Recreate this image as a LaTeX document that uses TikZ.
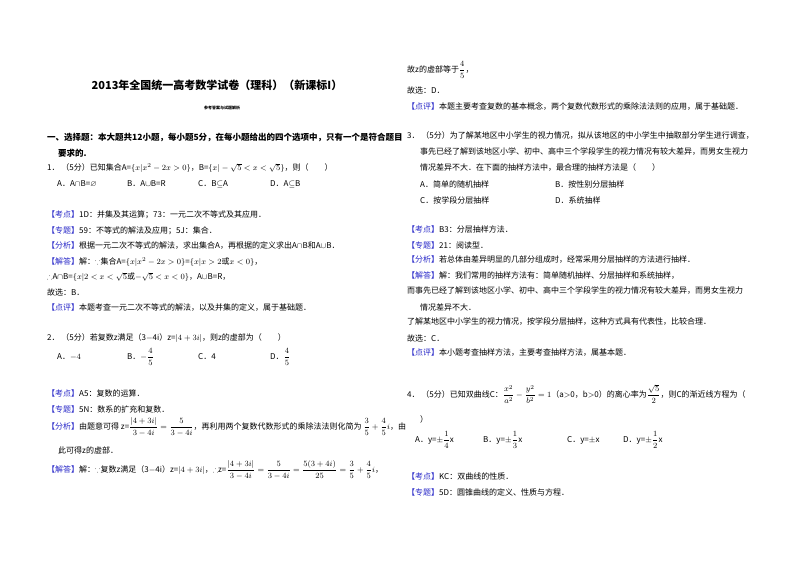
\documentclass[tikz,border=0pt]{standalone}
\usepackage{amsmath,amssymb}
\usepackage{fontspec}
\setmainfont{Noto Sans CJK SC}
\definecolor{lab}{RGB}{40,40,200}
\newcommand{\lb}[1]{{\color{lab}【#1】}}
\begin{document}
\begin{tikzpicture}[x=1pt,y=-1pt,
  t/.style={anchor=west,inner sep=0pt,font=\fontsize{8}{10}\selectfont},
  ttl/.style={anchor=center,inner sep=0pt,font=\fontsize{11}{12}\selectfont\bfseries},
  sub/.style={anchor=center,inner sep=0pt,font=\fontsize{4}{5}\selectfont\bfseries},
  sec/.style={anchor=west,inner sep=0pt,font=\fontsize{8.5}{10}\selectfont\bfseries}]
\fill[white] (0,0) rectangle (800,565);
\node[ttl] (title) at (217,85) {2013年全国统一高考数学试卷（理科）（新课标I）};
\node[sub] (subt) at (222,108) {参考答案与试题解析};
\node[sec] (s1) at (47,137) {一、选择题：本大题共12小题，每小题5分，在每小题给出的四个选项中，只有一个是符合题目};
\node[sec] (s2) at (58,153) {要求的.};
\node[t] (q1) at (47,168) {1．\ （5分）已知集合A=$\{x|x^2-2x>0\}$，B=$\{x|-\sqrt5<x<\sqrt5\}$，则（\qquad）};
\node[t] (q1a) at (57,184) {A．A$\cap$B=$\varnothing$};
\node[t] (q1b) at (127,184) {B．A$\cup$B=R};
\node[t] (q1c) at (198,184) {C．B$\subseteq$A};
\node[t] (q1d) at (270,184) {D．A$\subseteq$B};
\node[t] (l1) at (47,215) {\lb{考点}1D：并集及其运算；73：一元二次不等式及其应用．};
\node[t] (l2) at (47,231) {\lb{专题}59：不等式的解法及应用；5J：集合．};
\node[t] (l3) at (47,246) {\lb{分析}根据一元二次不等式的解法，求出集合A，再根据的定义求出A$\cap$B和A$\cup$B．};
\node[t] (l4) at (47,262) {\lb{解答}解：$\because$集合A=$\{x|x^2-2x>0\}$=$\{x|x>2$或$x<0\}$，};
\node[t] (l5) at (47,277) {$\therefore$A$\cap$B=$\{x|2<x<\sqrt5$或$-\sqrt5<x<0\}$，A$\cup$B=R，};
\node[t] (l6) at (47,292) {故选：B．};
\node[t] (l7) at (47,308) {\lb{点评}本题考查一元二次不等式的解法，以及并集的定义，属于基础题．};
\node[t] (q2) at (47,338) {2．\ （5分）若复数z满足（3$-$4i）z=$|4+3i|$，则z的虚部为（\qquad）};
\node[t] (q2a) at (57,357) {A．$-4$};
\node[t] (q2b) at (127,357) {B．$-\dfrac{4}{5}$};
\node[t] (q2c) at (198,357) {C．4};
\node[t] (q2d) at (270,357) {D．$\dfrac{4}{5}$};
\node[t] (m1) at (47,393) {\lb{考点}A5：复数的运算．};
\node[t] (m2) at (47,409) {\lb{专题}5N：数系的扩充和复数．};
\node[t] (m3) at (47,427) {\lb{分析}由题意可得 z=$\dfrac{|4+3i|}{3-4i}=\dfrac{5}{3-4i}$，再利用两个复数代数形式的乘除法法则化简为 $\dfrac35+\dfrac45i$，由};
\node[t] (m4) at (58,450) {此可得z的虚部．};
\node[t] (m5) at (47,470) {\lb{解答}解：$\because$复数z满足（3$-$4i）z=$|4+3i|$，$\therefore$z=$\dfrac{|4+3i|}{3-4i}=\dfrac{5}{3-4i}=\dfrac{5(3+4i)}{25}=\dfrac35+\dfrac45i$，};
\node[t] (r1) at (407,70) {故z的虚部等于$\dfrac45$，};
\node[t] (r2) at (407,90) {故选：D．};
\node[t] (r3) at (407,106) {\lb{点评}本题主要考查复数的基本概念，两个复数代数形式的乘除法法则的应用，属于基础题．};
\node[t] (q3) at (407,136) {3．\ （5分）为了解某地区中小学生的视力情况，拟从该地区的中小学生中抽取部分学生进行调查，};
\node[t] (q3b) at (420,152) {事先已经了解到该地区小学、初中、高中三个学段学生的视力情况有较大差异，而男女生视力};
\node[t] (q3c) at (420,168) {情况差异不大．在下面的抽样方法中，最合理的抽样方法是（\qquad）};
\node[t] (q3a1) at (420,184) {A．简单的随机抽样};
\node[t] (q3a2) at (555,184) {B．按性别分层抽样};
\node[t] (q3a3) at (420,200) {C．按学段分层抽样};
\node[t] (q3a4) at (555,200) {D．系统抽样};
\node[t] (n1) at (407,229) {\lb{考点}B3：分层抽样方法．};
\node[t] (n2) at (407,245) {\lb{专题}21：阅读型．};
\node[t] (n3) at (407,260) {\lb{分析}若总体由差异明显的几部分组成时，经常采用分层抽样的方法进行抽样．};
\node[t] (n4) at (407,276) {\lb{解答}解：我们常用的抽样方法有：简单随机抽样、分层抽样和系统抽样，};
\node[t] (n5) at (407,291) {而事先已经了解到该地区小学、初中、高中三个学段学生的视力情况有较大差异，而男女生视力};
\node[t] (n6) at (420,307) {情况差异不大．};
\node[t] (n7) at (407,322) {了解某地区中小学生的视力情况，按学段分层抽样，这种方式具有代表性，比较合理．};
\node[t] (n8) at (407,338) {故选：C．};
\node[t] (n9) at (407,353) {\lb{点评}本小题考查抽样方法，主要考查抽样方法，属基本题．};
\node[t] (q4) at (407,394) {4．\ （5分）已知双曲线C：$\dfrac{x^2}{a^2}-\dfrac{y^2}{b^2}=1$（a$>$0，b$>$0）的离心率为$\dfrac{\sqrt5}{2}$，则C的渐近线方程为（};
\node[t] (q4b) at (420,419) {）};
\node[t] (q4a1) at (415,440) {A．y=$\pm\dfrac14$x};
\node[t] (q4a2) at (483,440) {B．y=$\pm\dfrac13$x};
\node[t] (q4a3) at (567,440) {C．y=$\pm$x};
\node[t] (q4a4) at (623,440) {D．y=$\pm\dfrac12$x};
\node[t] (p1) at (407,476) {\lb{考点}KC：双曲线的性质．};
\node[t] (p2) at (407,492) {\lb{专题}5D：圆锥曲线的定义、性质与方程．};
\end{tikzpicture}
\end{document}
